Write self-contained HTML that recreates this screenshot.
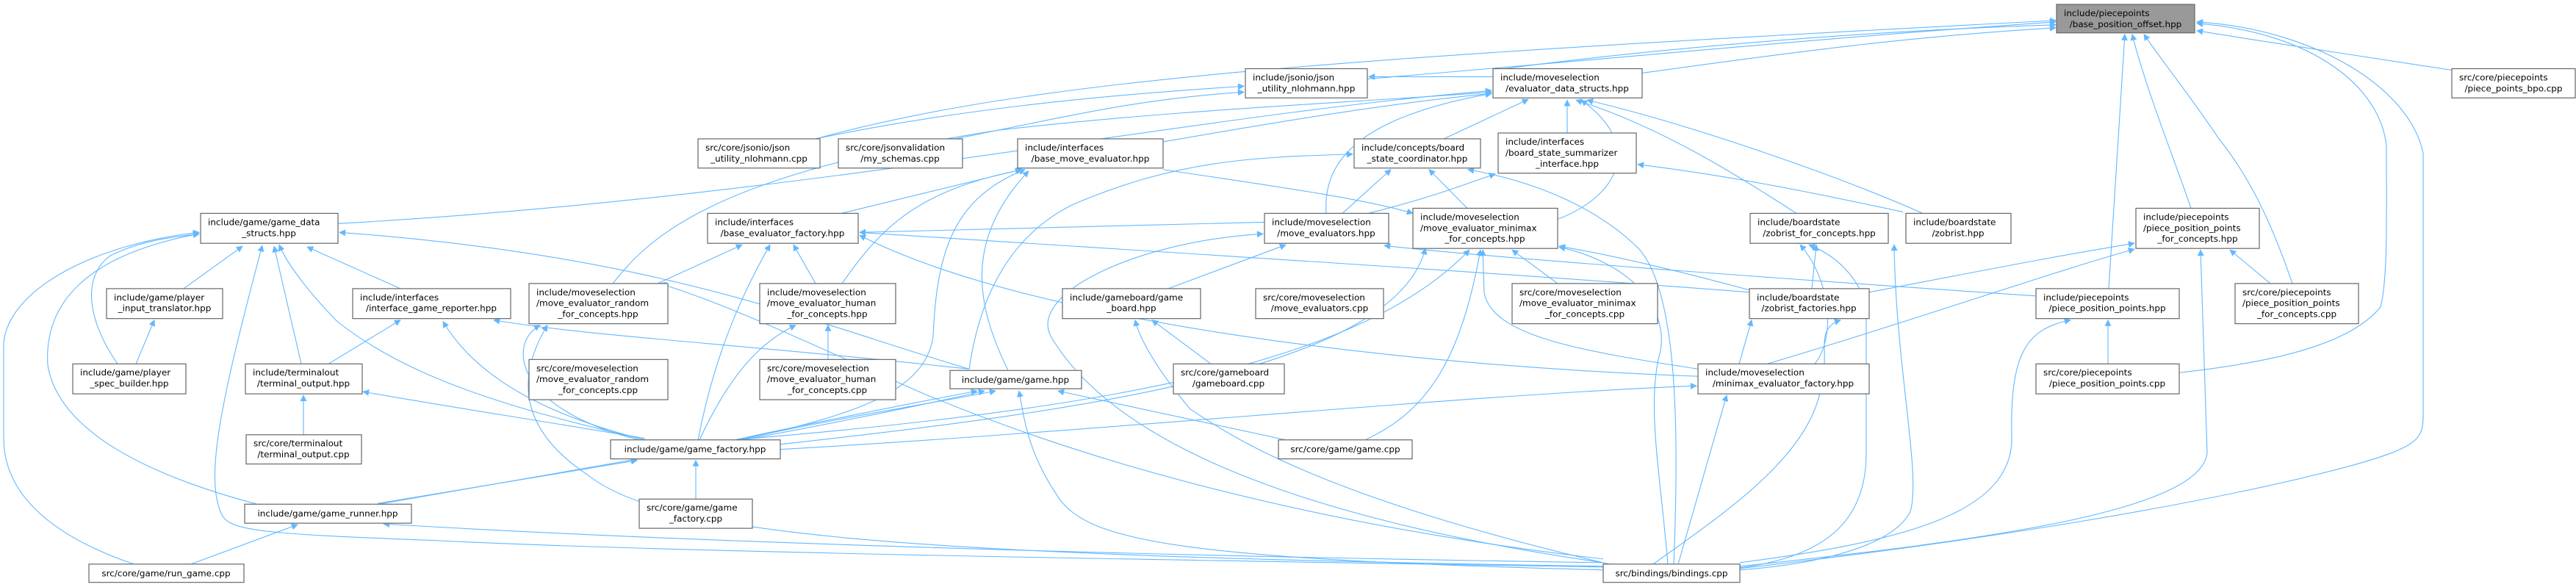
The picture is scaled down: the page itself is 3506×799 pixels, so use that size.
<!DOCTYPE html>
<html><head><meta charset="utf-8"><style>
html,body{margin:0;padding:0;background:#fff;}
svg{display:block;}
text{font-family:"DejaVu Sans","Liberation Sans",sans-serif;font-size:12px;fill:#000;text-anchor:middle;}
text.l{text-anchor:start;}
.n{fill:#fff;stroke:#666;stroke-width:1.2;}
.e{fill:none;stroke:#63b8ff;stroke-width:1.1;}
</style></head><body>
<svg width="3506" height="799" viewBox="0 0 3506 799" xmlns="http://www.w3.org/2000/svg">
<defs><marker id="a" viewBox="0 0 10 10" refX="9" refY="5" markerWidth="10" markerHeight="9" orient="auto" markerUnits="userSpaceOnUse"><path d="M0,0 L10,5 L0,10 z" fill="#63b8ff"/></marker></defs>
<g transform="scale(1,0.9946)">
<g class="e" marker-end="url(#a)">
<path d="M1861,108 C2200,80 2500,50 2798,30"/>
<path d="M2235,100 C2450,70 2600,50 2798,38"/>
<path d="M1110,190 C1400,110 1800,80 2798,28"/>
<path d="M2040,95 C2300,60 2600,40 2798,34"/>
<path d="M2870,395 L2892,47"/>
<path d="M2982,285 C2960,220 2920,120 2902,47"/>
<path d="M3120,388 C3090,300 3060,240 3020,190 C2980,130 2940,80 2918,47"/>
<path d="M2966,510 C3100,495 3200,470 3240,420 C3250,380 3248,300 3248,200 C3240,120 3150,45 2990,32"/>
<path d="M2368,778 C2700,740 3000,690 3190,640 C3300,610 3298,600 3298,560 L3298,210 C3280,120 3150,40 2990,30"/>
<path d="M3337,96 C3200,75 3100,60 2990,42"/>
<path d="M1110,190 C1300,150 1500,130 1693,118"/>
<path d="M1300,190 C1450,160 1550,135 1693,126"/>
<path d="M2032,105 L1863,105"/>
<path d="M1583,194 C1750,165 1900,140 2030,128"/>
<path d="M460,306 C1100,270 1600,160 2030,124"/>
<path d="M834,388 C880,330 960,240 1360,178 C1600,150 1850,140 2030,126"/>
<path d="M1805,292 C1800,220 1850,160 2030,128"/>
<path d="M1965,190 L2080,136"/>
<path d="M2133,182 L2133,137"/>
<path d="M2120,300 C2200,270 2240,200 2152,137"/>
<path d="M2445,292 C2350,230 2250,170 2145,137"/>
<path d="M2617,292 C2500,240 2300,170 2160,137"/>
<path d="M1827,292 L1893,232"/>
<path d="M1862,292 C1950,270 2000,250 2035,238"/>
<path d="M1997,285 L1945,232"/>
<path d="M2590,290 C2450,260 2350,240 2229,225"/>
<path d="M2278,772 C2285,600 2285,400 2230,340 C2180,290 2100,250 1998,232"/>
<path d="M1319,505 C1330,430 1360,330 1460,280 C1600,220 1700,215 1841,211"/>
<path d="M2385,398 C2300,375 2200,350 2122,337"/>
<path d="M2466,395 L2472,335"/>
<path d="M2367,498 L2384,438"/>
<path d="M2470,498 C2500,460 2490,380 2450,335"/>
<path d="M2368,777 C2500,760 2540,700 2540,620 L2540,420 C2530,380 2500,350 2462,335"/>
<path d="M2368,780 C2500,770 2580,740 2600,700 C2615,650 2580,500 2578,335"/>
<path d="M2250,772 C2350,700 2470,620 2480,520 C2490,480 2470,450 2505,438"/>
<path d="M2284,772 L2350,541"/>
<path d="M2270,772 C2260,650 2240,550 2260,480 C2270,420 2220,360 2122,338"/>
<path d="M2120,388 L2058,342"/>
<path d="M2311,505 C2150,480 2030,460 2020,400 L2018,342"/>
<path d="M1858,602 C1950,560 1990,480 2015,342"/>
<path d="M1000,602 C1500,560 1850,500 2000,342"/>
<path d="M1062,615 C1500,590 2000,540 2309,528"/>
<path d="M2311,515 C1900,500 1400,440 1170,322"/>
<path d="M2381,400 C2000,370 1500,340 1170,318"/>
<path d="M1583,232 C1700,250 1850,270 1923,292"/>
<path d="M2771,405 C2400,380 2000,350 1884,336"/>
<path d="M2544,400 C2700,370 2800,350 2905,333"/>
<path d="M2405,498 C2600,440 2800,370 2905,341"/>
<path d="M2368,775 C2700,740 2995,700 3004,620 L2995,342"/>
<path d="M3090,388 L3035,342"/>
<path d="M2869,498 L2869,438"/>
<path d="M2368,770 C2600,740 2738,700 2738,600 C2735,480 2760,450 2818,438"/>
<path d="M1145,292 L1390,232"/>
<path d="M1146,388 C1200,310 1250,260 1392,232"/>
<path d="M1110,388 L1080,335"/>
<path d="M1127,492 L1127,445"/>
<path d="M950,602 C970,500 1000,420 1048,335"/>
<path d="M952,602 C990,520 1030,470 1083,445"/>
<path d="M1008,602 C1150,570 1260,540 1270,460 C1275,340 1300,270 1395,232"/>
<path d="M1372,507 C1330,420 1310,330 1400,234"/>
<path d="M1590,395 L1750,335"/>
<path d="M2190,772 C1800,680 1680,600 1620,560 C1570,500 1550,460 1545,438"/>
<path d="M1648,498 L1568,438"/>
<path d="M2182,770 C1700,700 1500,580 1430,460 C1400,400 1550,330 1719,320"/>
<path d="M895,388 L1010,335"/>
<path d="M1880,300 C1500,310 1300,315 1170,318"/>
<path d="M250,395 L330,337"/>
<path d="M160,498 C120,440 110,380 150,350 C190,330 230,325 271,320"/>
<path d="M185,498 L210,438"/>
<path d="M545,395 L418,338"/>
<path d="M410,498 L373,337"/>
<path d="M447,498 L545,438"/>
<path d="M413,595 L413,541"/>
<path d="M350,690 C200,650 80,590 65,500 C60,420 110,350 271,320"/>
<path d="M182,772 C60,730 5,670 5,600 L5,470 C10,400 120,335 271,318"/>
<path d="M2182,776 C1500,765 900,755 600,740 C330,730 310,725 300,700 C280,650 300,550 357,336"/>
<path d="M878,602 C700,560 560,520 459,440 C420,400 390,360 380,335"/>
<path d="M878,602 C750,570 650,520 603,440"/>
<path d="M878,600 C700,570 600,555 494,536"/>
<path d="M1319,505 C1100,440 900,350 462,318"/>
<path d="M1319,505 C1000,470 800,460 672,438"/>
<path d="M870,602 C700,560 690,470 735,445"/>
<path d="M2182,775 C1200,760 900,730 800,650 C710,590 700,520 745,445"/>
<path d="M515,690 C800,640 1100,590 1340,535"/>
<path d="M514,689 L867,630"/>
<path d="M2182,770 C1500,760 900,740 522,717"/>
<path d="M260,772 L405,718"/>
<path d="M947,683 L947,630"/>
<path d="M2182,780 C1600,765 1480,740 1440,680 C1400,620 1395,580 1387,535"/>
<path d="M1750,602 L1440,535"/>
<path d="M1000,602 C1100,580 1250,550 1330,535"/>
<path d="M1005,602 C1150,570 1280,550 1355,535"/>
<path d="M1062,608 C1500,560 1900,500 1940,340"/>
<path d="M2182,765 C1800,720 1500,640 1260,540 C1100,470 1000,420 898,388"/>
</g>
<g>
<rect x="2799" y="6" width="188" height="39" fill="#999" stroke="#666" stroke-width="1.2"/>
<text class="l" x="2809" y="22">include/piecepoints</text><text x="2893" y="37">/base_position_offset.hpp</text>

<rect class="n" x="1695" y="94" width="166" height="40"/><text class="l" x="1705" y="110">include/jsonio/json</text><text x="1778" y="125">_utility_nlohmann.hpp</text>
<rect class="n" x="2032" y="94" width="203" height="40"/><text class="l" x="2042" y="110">include/moveselection</text><text x="2133" y="125">/evaluator_data_structs.hpp</text>
<rect class="n" x="3337" y="94" width="168" height="40"/><text class="l" x="3347" y="110">src/core/piecepoints</text><text x="3421" y="125">/piece_points_bpo.cpp</text>

<rect class="n" x="950" y="190" width="166" height="40"/><text class="l" x="960" y="206">src/core/jsonio/json</text><text x="1033" y="221">_utility_nlohmann.cpp</text>
<rect class="n" x="1141" y="190" width="169" height="40"/><text class="l" x="1151" y="206">src/core/jsonvalidation</text><text x="1225" y="221">/my_schemas.cpp</text>
<rect class="n" x="1385" y="190" width="198" height="40"/><text class="l" x="1395" y="206">include/interfaces</text><text x="1484" y="221">/base_move_evaluator.hpp</text>
<rect class="n" x="1843" y="190" width="172" height="40"/><text class="l" x="1853" y="206">include/concepts/board</text><text x="1929" y="221">_state_coordinator.hpp</text>
<rect class="n" x="2039" y="182" width="188" height="55"/><text class="l" x="2049" y="198">include/interfaces</text><text class="l" x="2049" y="213">/board_state_summarizer</text><text x="2133" y="228">_interface.hpp</text>

<rect class="n" x="273" y="292" width="187" height="41"/><text class="l" x="283" y="308">include/game/game_data</text><text x="366" y="323">_structs.hpp</text>
<rect class="n" x="963" y="292" width="205" height="41"/><text class="l" x="973" y="308">include/interfaces</text><text x="1065" y="323">/base_evaluator_factory.hpp</text>
<rect class="n" x="1721" y="292" width="169" height="41"/><text class="l" x="1731" y="308">include/moveselection</text><text x="1805" y="323">/move_evaluators.hpp</text>
<rect class="n" x="1923" y="285" width="197" height="55"/><text class="l" x="1933" y="301">include/moveselection</text><text class="l" x="1933" y="316">/move_evaluator_minimax</text><text x="2021" y="331">_for_concepts.hpp</text>
<rect class="n" x="2382" y="292" width="188" height="41"/><text class="l" x="2392" y="308">include/boardstate</text><text x="2476" y="323">/zobrist_for_concepts.hpp</text>
<rect class="n" x="2594" y="292" width="143" height="41"/><text class="l" x="2604" y="308">include/boardstate</text><text x="2665" y="323">/zobrist.hpp</text>
<rect class="n" x="2907" y="285" width="168" height="55"/><text class="l" x="2917" y="301">include/piecepoints</text><text class="l" x="2917" y="316">/piece_position_points</text><text x="2991" y="331">_for_concepts.hpp</text>

<rect class="n" x="145" y="395" width="158" height="41"/><text class="l" x="155" y="411">include/game/player</text><text x="224" y="426">_input_translator.hpp</text>
<rect class="n" x="480" y="395" width="215" height="41"/><text class="l" x="490" y="411">include/interfaces</text><text x="587" y="426">/interface_game_reporter.hpp</text>
<rect class="n" x="720" y="388" width="189" height="55"/><text class="l" x="730" y="404">include/moveselection</text><text class="l" x="730" y="419">/move_evaluator_random</text><text x="814" y="434">_for_concepts.hpp</text>
<rect class="n" x="1034" y="388" width="185" height="55"/><text class="l" x="1044" y="404">include/moveselection</text><text class="l" x="1044" y="419">/move_evaluator_human</text><text x="1126" y="434">_for_concepts.hpp</text>
<rect class="n" x="1446" y="395" width="188" height="41"/><text class="l" x="1456" y="411">include/gameboard/game</text><text x="1540" y="426">_board.hpp</text>
<rect class="n" x="1709" y="395" width="174" height="41"/><text class="l" x="1719" y="411">src/core/moveselection</text><text x="1796" y="426">/move_evaluators.cpp</text>
<rect class="n" x="2058" y="388" width="198" height="55"/><text class="l" x="2068" y="404">src/core/moveselection</text><text class="l" x="2068" y="419">/move_evaluator_minimax</text><text x="2157" y="434">_for_concepts.cpp</text>
<rect class="n" x="2381" y="395" width="163" height="41"/><text class="l" x="2391" y="411">include/boardstate</text><text x="2462" y="426">/zobrist_factories.hpp</text>
<rect class="n" x="2771" y="395" width="195" height="41"/><text class="l" x="2781" y="411">include/piecepoints</text><text x="2868" y="426">/piece_position_points.hpp</text>
<rect class="n" x="3042" y="388" width="168" height="55"/><text class="l" x="3052" y="404">src/core/piecepoints</text><text class="l" x="3052" y="419">/piece_position_points</text><text x="3126" y="434">_for_concepts.cpp</text>

<rect class="n" x="99" y="498" width="154" height="41"/><text class="l" x="109" y="514">include/game/player</text><text x="176" y="529">_spec_builder.hpp</text>
<rect class="n" x="334" y="498" width="159" height="41"/><text class="l" x="344" y="514">include/terminalout</text><text x="413" y="529">/terminal_output.hpp</text>
<rect class="n" x="720" y="492" width="189" height="55"/><text class="l" x="730" y="508">src/core/moveselection</text><text class="l" x="730" y="523">/move_evaluator_random</text><text x="814" y="538">_for_concepts.cpp</text>
<rect class="n" x="1034" y="492" width="185" height="55"/><text class="l" x="1044" y="508">src/core/moveselection</text><text class="l" x="1044" y="523">/move_evaluator_human</text><text x="1126" y="538">_for_concepts.cpp</text>
<rect class="n" x="1293" y="507" width="179" height="25"/><text x="1382" y="524">include/game/game.hpp</text>
<rect class="n" x="1597" y="498" width="151" height="41"/><text class="l" x="1607" y="514">src/core/gameboard</text><text x="1672" y="529">/gameboard.cpp</text>
<rect class="n" x="2311" y="498" width="233" height="41"/><text class="l" x="2321" y="514">include/moveselection</text><text x="2427" y="529">/minimax_evaluator_factory.hpp</text>
<rect class="n" x="2771" y="498" width="195" height="41"/><text class="l" x="2781" y="514">src/core/piecepoints</text><text x="2868" y="529">/piece_position_points.cpp</text>

<rect class="n" x="335" y="595" width="157" height="40"/><text class="l" x="345" y="611">src/core/terminalout</text><text x="413" y="626">/terminal_output.cpp</text>
<rect class="n" x="831" y="602" width="231" height="26"/><text x="946" y="619">include/game/game_factory.hpp</text>
<rect class="n" x="1740" y="602" width="182" height="26"/><text x="1831" y="619">src/core/game/game.cpp</text>

<rect class="n" x="870" y="683" width="154" height="40"/><text class="l" x="880" y="699">src/core/game/game</text><text x="947" y="714">_factory.cpp</text>
<rect class="n" x="333" y="690" width="227" height="26"/><text x="446" y="707">include/game/game_runner.hpp</text>

<rect class="n" x="121" y="772" width="211" height="25"/><text x="226" y="789">src/core/game/run_game.cpp</text>
<rect class="n" x="2182" y="772" width="186" height="25"/><text x="2275" y="789">src/bindings/bindings.cpp</text>
</g>
</g>
</svg>
</body></html>
